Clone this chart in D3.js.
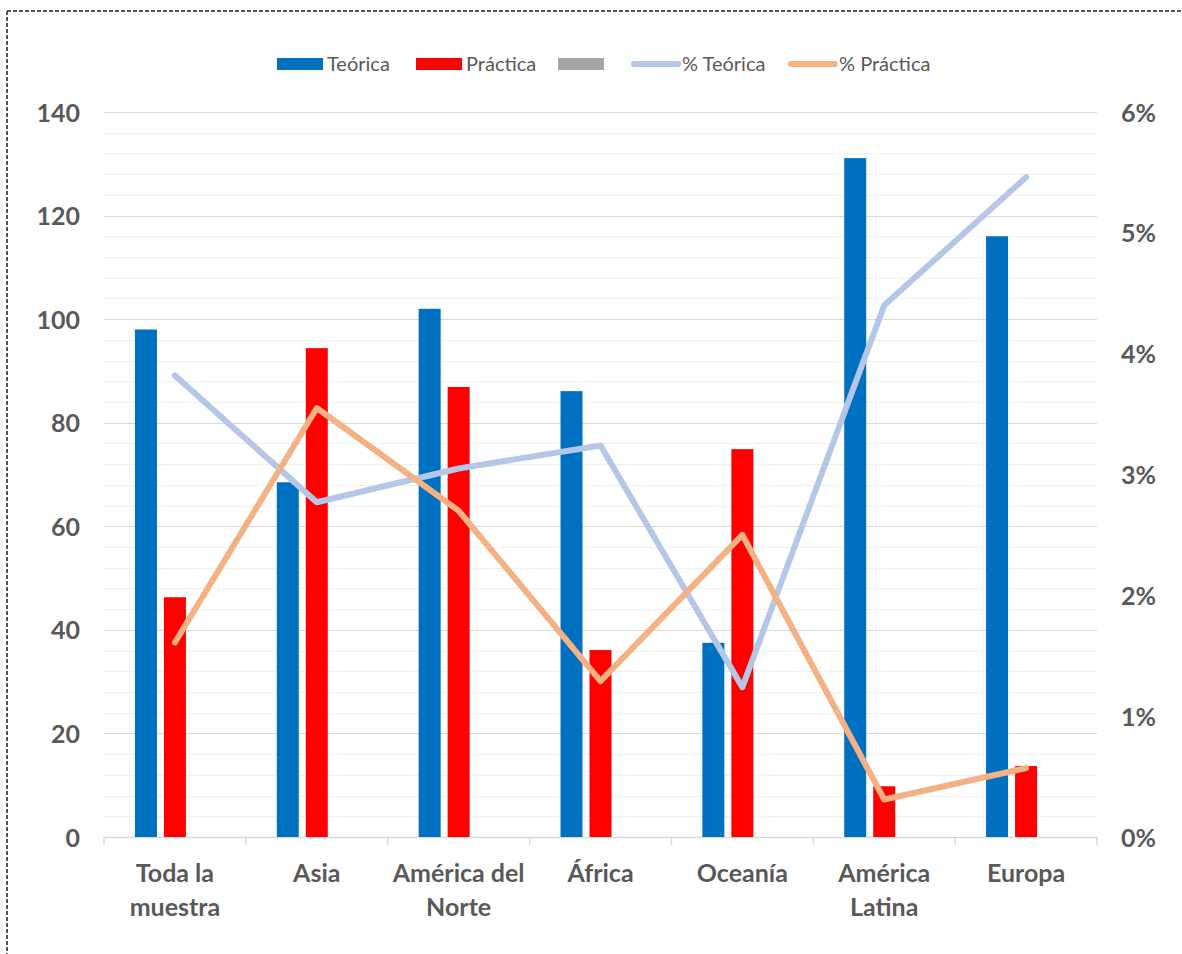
<!DOCTYPE html>
<html>
<head>
<meta charset="utf-8">
<script src="https://cdn.jsdelivr.net/npm/d3@7"></script>
<style>
  html, body { margin: 0; padding: 0; background: #fff; }
  svg { display: block; }
</style>
</head>
<body>
<svg id="chart" width="1182" height="954"></svg>
<script>
// Regions and their two-line labels
const categories = ["Toda la muestra", "Asia", "América del Norte", "África", "Oceanía", "América Latina", "Europa"];
const categoryLines = [["Toda la", "muestra"], ["Asia"], ["América del", "Norte"], ["África"], ["Oceanía"], ["América", "Latina"], ["Europa"]];

// Bar series (left axis)
const teorica = [98, 68.5, 102, 86.1, 37.5, 131.1, 116];
const practica = [46.3, 94.4, 86.9, 36.1, 74.9, 9.8, 13.7];
const tercera = [null, null, null, null, null, null, null];

// Line series (right axis, fractions)
const pctTeorica = [0.0382, 0.0277, 0.0305, 0.0324, 0.0124, 0.0440, 0.0546];
const pctPractica = [0.0161, 0.0355, 0.0270, 0.0129, 0.0250, 0.0031, 0.0057];

const leftTicks = [0, 20, 40, 60, 80, 100, 120, 140];
const rightTicks = [0, 0.01, 0.02, 0.03, 0.04, 0.05, 0.06];

const legendItems = [
  { label: "Teórica", type: "bar", color: "#0070C0" },
  { label: "Práctica", type: "bar", color: "#FF0000" },
  { label: "", type: "bar", color: "#A5A5A5" },
  { label: "% Teórica", type: "line", color: "#B4C7E7" },
  { label: "% Práctica", type: "line", color: "#F4B183" }
];

const svg = d3.select("#chart");
const FONT = "Lato, 'Open Sans', sans-serif";
const TEXT = "#595959";

const plot = { left: 104, right: 1097, top: 112, bottom: 837 };

const x = d3.scaleBand().domain(categories).range([plot.left, plot.right]).paddingInner(0).paddingOuter(0);
const yL = d3.scaleLinear().domain([0, 140]).range([plot.bottom, plot.top]);
const yR = d3.scaleLinear().domain([0, 0.06]).range([plot.bottom, plot.top]);

// Dashed frame
svg.append("line").attr("x1", 7).attr("x2", 1182).attr("y1", 11).attr("y2", 11)
  .attr("stroke", "#555").attr("stroke-width", 2).attr("stroke-dasharray", "4,2");
svg.append("line").attr("x1", 7).attr("x2", 7).attr("y1", 11).attr("y2", 954)
  .attr("stroke", "#555").attr("stroke-width", 2).attr("stroke-dasharray", "4,2");

// Minor gridlines every 4 units, major every 20
const minor = d3.range(0, 141, 4).filter(v => v % 20 !== 0);
svg.append("g").selectAll("line").data(minor).join("line")
  .attr("x1", plot.left).attr("x2", plot.right)
  .attr("y1", d => Math.round(yL(d)) + 0.5).attr("y2", d => Math.round(yL(d)) + 0.5)
  .attr("stroke", "#F0F0F0").attr("stroke-width", 1);
svg.append("g").selectAll("line").data(leftTicks.filter(d => d > 0)).join("line")
  .attr("x1", plot.left).attr("x2", plot.right)
  .attr("y1", d => Math.round(yL(d)) + 0.5).attr("y2", d => Math.round(yL(d)) + 0.5)
  .attr("stroke", "#D9D9D9").attr("stroke-width", 1);

// Category axis with tick marks at band boundaries
const bottomAxis = d3.axisBottom(x).tickSize(0).tickFormat("");
const gx = svg.append("g").attr("transform", `translate(0,${plot.bottom})`).call(bottomAxis);
gx.select(".domain").attr("stroke", "#D9D9D9").attr("stroke-width", 1.5);
const boundaries = categories.map(c => x(c)).concat([plot.right]);
gx.selectAll(".bnd").data(boundaries).join("line").attr("class", "bnd")
  .attr("x1", d => d).attr("x2", d => d).attr("y1", 0).attr("y2", 8)
  .attr("stroke", "#D9D9D9").attr("stroke-width", 1.5);

// Category labels
const labelG = svg.append("g");
categories.forEach((c, i) => {
  const t = labelG.append("text")
    .attr("x", x(c) + x.bandwidth() / 2)
    .attr("y", 882)
    .attr("text-anchor", "middle")
    .attr("font-family", FONT).attr("font-weight", "bold").attr("font-size", 25)
    .attr("fill", TEXT);
  categoryLines[i].forEach((ln, j) => {
    t.append("tspan").attr("x", x(c) + x.bandwidth() / 2).attr("dy", j === 0 ? 0 : 34).text(ln);
  });
});

// Left axis
const gl = svg.append("g").attr("transform", `translate(${plot.left - 24},0)`)
  .call(d3.axisLeft(yL).tickValues(leftTicks).tickSize(0).tickPadding(0));
gl.select(".domain").remove();
gl.selectAll("text").attr("font-family", FONT).attr("font-weight", "bold").attr("font-size", 25)
  .attr("fill", TEXT).attr("dy", "0.36em");

// Right axis
const gr = svg.append("g").attr("transform", `translate(${plot.right + 24},0)`)
  .call(d3.axisRight(yR).tickValues(rightTicks).tickSize(0).tickPadding(0).tickFormat(d3.format(".0%")));
gr.select(".domain").remove();
gr.selectAll("text").attr("font-family", FONT).attr("font-weight", "bold").attr("font-size", 25)
  .attr("fill", TEXT).attr("dy", "0.36em");

// Bars: three slots per category
const barW = 22, step = 29;
const barSeries = [
  { values: teorica, color: "#0070C0", slot: -1 },
  { values: practica, color: "#FF0000", slot: 0 },
  { values: tercera, color: "#A5A5A5", slot: 1 }
];
barSeries.forEach(s => {
  svg.append("g").selectAll("rect")
    .data(categories.map((c, i) => ({ c, v: s.values[i] })).filter(d => d.v != null))
    .join("rect")
    .attr("x", d => x(d.c) + x.bandwidth() / 2 + s.slot * step - barW / 2)
    .attr("width", barW)
    .attr("y", d => yL(d.v))
    .attr("height", d => yL(0) - yL(d.v))
    .attr("fill", s.color);
});

// Percentage lines
const line = d3.line()
  .x((d, i) => x(categories[i]) + x.bandwidth() / 2)
  .y(d => yR(d));
[[pctTeorica, "#B4C7E7"], [pctPractica, "#F4B183"]].forEach(([vals, col]) => {
  svg.append("path").datum(vals).attr("d", line)
    .attr("fill", "none").attr("stroke", col).attr("stroke-width", 6)
    .attr("stroke-linejoin", "round").attr("stroke-linecap", "round");
});

// Legend
const legendX = [277, 416, 558, 631, 788];
const legend = svg.append("g");
legendItems.forEach((it, i) => {
  const lx = legendX[i];
  if (it.type === "bar") {
    legend.append("rect").attr("x", lx).attr("y", 58).attr("width", 46).attr("height", 12).attr("fill", it.color);
  } else {
    legend.append("line").attr("x1", lx + 3).attr("x2", lx + 47).attr("y1", 64).attr("y2", 64)
      .attr("stroke", it.color).attr("stroke-width", 6).attr("stroke-linecap", "round");
  }
  if (it.label) {
    legend.append("text").attr("x", lx + (it.type === "bar" ? 50 : 51)).attr("y", 64)
      .attr("dy", "0.36em").attr("font-family", FONT).attr("font-size", 20).attr("fill", TEXT)
      .text(it.label);
  }
});
</script>
</body>
</html>
